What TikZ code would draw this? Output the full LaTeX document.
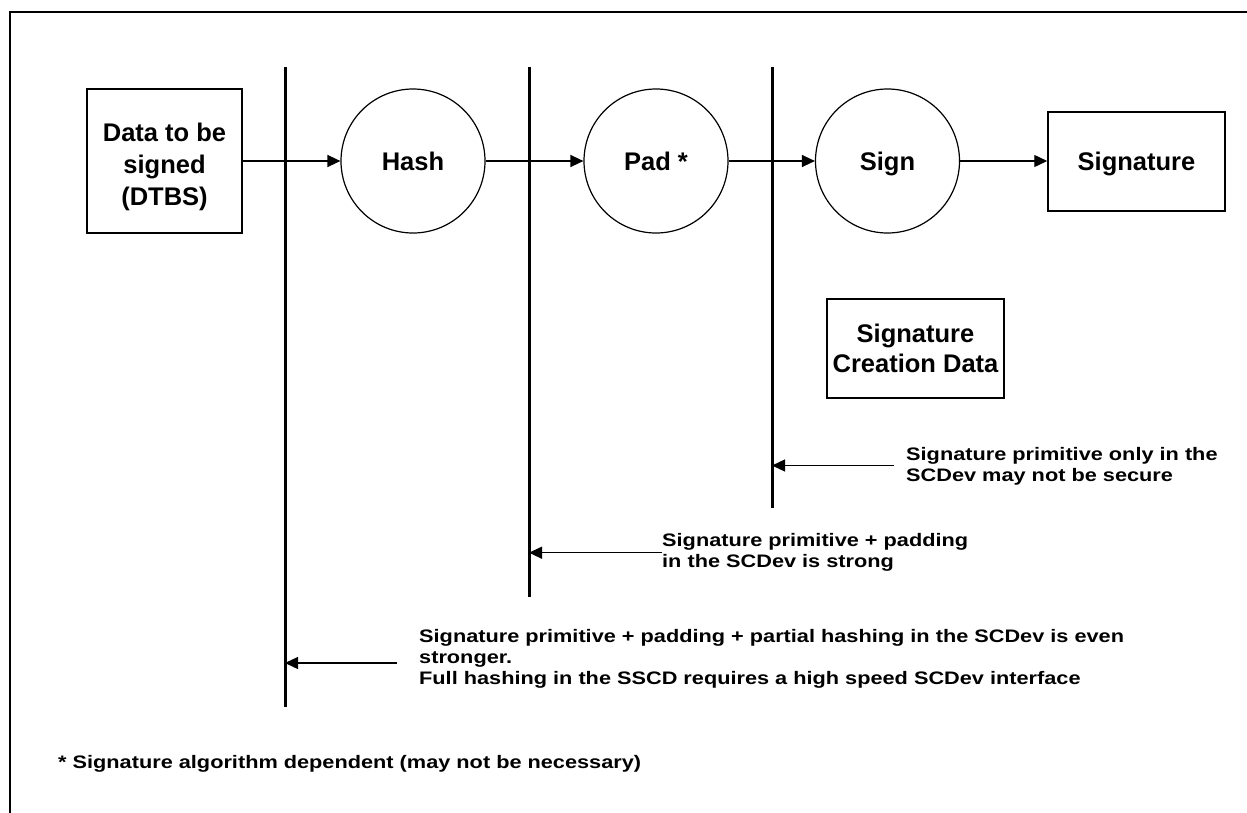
\documentclass[tikz,border=0pt]{standalone}
\usepackage{fontspec}
\setmainfont{Liberation Sans}
\newfontfamily\annfont{Liberation Sans}[FakeStretch=1.2]
\usetikzlibrary{arrows.meta}
\begin{document}
\begin{tikzpicture}[x=1pt,y=-1pt,
  box/.style={draw,line width=1.5pt,inner sep=0pt,align=center,font=\fontsize{25.5}{32}\selectfont\bfseries},
  proc/.style={draw,circle,line width=1.2pt,minimum size=144pt,inner sep=0pt,text height=18.3pt,text depth=0pt,font=\fontsize{25.5}{32}\selectfont\bfseries},
  flow/.style={line width=1.3pt,-{Triangle[length=13pt,width=12pt]}},
  bar/.style={line width=3pt},
  note/.style={inner sep=0pt,anchor=north west,align=left,font=\annfont\fontsize{18.1}{20.8}\selectfont\bfseries},
]
\useasboundingbox (0,0) rectangle (1247,812);
\fill[white] (0,0) rectangle (1247,812);
% outer frame (only left and top edges are inside the picture)
\draw[line width=2pt] (10,830) |- (1260,12);

% process nodes
\node[box,minimum width=155pt,minimum height=144pt] (dtbs) at (164.5,161) {\rule{0pt}{30pt}Data to be\\signed\\(DTBS)};
\node[proc] (hash) at (413,161) {Hash};
\node[proc] (pad) at (656,161) {Pad *};
\node[proc] (sign) at (887.5,161) {Sign};
\node[box,minimum width=177pt,minimum height=99pt,text height=18.3pt,text depth=0pt] (sig) at (1136.5,161.5) {Signature};
\node[box,minimum width=177pt,minimum height=99pt,font=\fontsize{25.5}{29.5}\selectfont\bfseries] (scd) at (915.5,348.5) {Signature\\Creation Data};

% boundary bars
\coordinate (b1t) at (285,67);  \coordinate (b1b) at (285,707);
\coordinate (b2t) at (529,67);  \coordinate (b2b) at (529,597);
\coordinate (b3t) at (772,67);  \coordinate (b3b) at (772,508);
\draw[bar] (b1t) -- (b1b);
\draw[bar] (b2t) -- (b2b);
\draw[bar] (b3t) -- (b3b);

% flow connectors
\draw[flow] (dtbs.east) -- (hash.west);
\draw[flow] (hash.east) -- (pad.west);
\draw[flow] (pad.east) -- (sign.west);
\draw[flow] (sign.east) -- (sign.east -| sig.west);

% annotations
\node[note] (n3) at (906,447.5) {Signature primitive only in the\\SCDev may not be secure};
\node[note] (n2) at (662,533.5) {Signature primitive + padding\\in the SCDev is strong};
\node[note] (n1) at (419,629.5) {Signature primitive + padding + partial hashing in the SCDev is even\\stronger.\\Full hashing in the SSCD requires a high speed SCDev interface};
\node[note] (foot) at (58,755.5) {* Signature algorithm dependent (may not be necessary)};

\coordinate (a3s) at (894,465.5); \coordinate (a3e) at (772,465.5);
\coordinate (a2s) at (662,552.7); \coordinate (a2e) at (529,552.7);
\coordinate (a1s) at (397,663);   \coordinate (a1e) at (285,663);
\draw[flow] (a3s) -- (a3e);
\draw[flow] (a2s) -- (a2e);
\draw[flow] (a1s) -- (a1e);
\end{tikzpicture}
\end{document}
